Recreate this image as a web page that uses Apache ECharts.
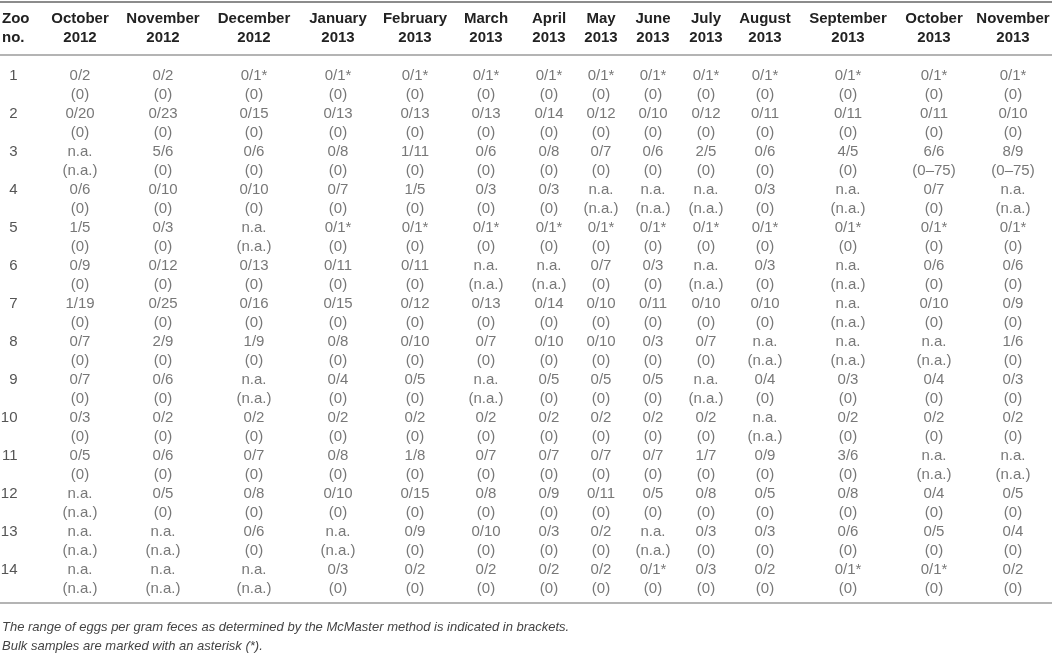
<!DOCTYPE html>
<html>
<head>
<meta charset="utf-8">
<script src="https://cdn.jsdelivr.net/npm/echarts@6/dist/echarts.min.js"></script>
<style>
  html, body { margin: 0; padding: 0; background: #fff; }
  #main { width: 1052px; height: 667px; }
</style>
</head>
<body>
<div id="main"></div>
<script>
// column headers (sampling months)
let months = [
    'October\n2012', 'November\n2012', 'December\n2012', 'January\n2013', 'February\n2013',
    'March\n2013', 'April\n2013', 'May\n2013', 'June\n2013', 'July\n2013',
    'August\n2013', 'September\n2013', 'October\n2013', 'November\n2013'
];
let zooNos = ['1', '2', '3', '4', '5', '6', '7', '8', '9', '10', '11', '12', '13', '14'];

// positive / examined samples, one row per zoo
let samples = [
    ['0/2', '0/2', '0/1*', '0/1*', '0/1*', '0/1*', '0/1*', '0/1*', '0/1*', '0/1*', '0/1*', '0/1*', '0/1*', '0/1*'],
    ['0/20', '0/23', '0/15', '0/13', '0/13', '0/13', '0/14', '0/12', '0/10', '0/12', '0/11', '0/11', '0/11', '0/10'],
    ['n.a.', '5/6', '0/6', '0/8', '1/11', '0/6', '0/8', '0/7', '0/6', '2/5', '0/6', '4/5', '6/6', '8/9'],
    ['0/6', '0/10', '0/10', '0/7', '1/5', '0/3', '0/3', 'n.a.', 'n.a.', 'n.a.', '0/3', 'n.a.', '0/7', 'n.a.'],
    ['1/5', '0/3', 'n.a.', '0/1*', '0/1*', '0/1*', '0/1*', '0/1*', '0/1*', '0/1*', '0/1*', '0/1*', '0/1*', '0/1*'],
    ['0/9', '0/12', '0/13', '0/11', '0/11', 'n.a.', 'n.a.', '0/7', '0/3', 'n.a.', '0/3', 'n.a.', '0/6', '0/6'],
    ['1/19', '0/25', '0/16', '0/15', '0/12', '0/13', '0/14', '0/10', '0/11', '0/10', '0/10', 'n.a.', '0/10', '0/9'],
    ['0/7', '2/9', '1/9', '0/8', '0/10', '0/7', '0/10', '0/10', '0/3', '0/7', 'n.a.', 'n.a.', 'n.a.', '1/6'],
    ['0/7', '0/6', 'n.a.', '0/4', '0/5', 'n.a.', '0/5', '0/5', '0/5', 'n.a.', '0/4', '0/3', '0/4', '0/3'],
    ['0/3', '0/2', '0/2', '0/2', '0/2', '0/2', '0/2', '0/2', '0/2', '0/2', 'n.a.', '0/2', '0/2', '0/2'],
    ['0/5', '0/6', '0/7', '0/8', '1/8', '0/7', '0/7', '0/7', '0/7', '1/7', '0/9', '3/6', 'n.a.', 'n.a.'],
    ['n.a.', '0/5', '0/8', '0/10', '0/15', '0/8', '0/9', '0/11', '0/5', '0/8', '0/5', '0/8', '0/4', '0/5'],
    ['n.a.', 'n.a.', '0/6', 'n.a.', '0/9', '0/10', '0/3', '0/2', 'n.a.', '0/3', '0/3', '0/6', '0/5', '0/4'],
    ['n.a.', 'n.a.', 'n.a.', '0/3', '0/2', '0/2', '0/2', '0/2', '0/1*', '0/3', '0/2', '0/1*', '0/1*', '0/2']
];

// eggs per gram feces range (McMaster), one row per zoo
let epg = [
    ['0', '0', '0', '0', '0', '0', '0', '0', '0', '0', '0', '0', '0', '0'],
    ['0', '0', '0', '0', '0', '0', '0', '0', '0', '0', '0', '0', '0', '0'],
    ['n.a.', '0', '0', '0', '0', '0', '0', '0', '0', '0', '0', '0', '0–75', '0–75'],
    ['0', '0', '0', '0', '0', '0', '0', 'n.a.', 'n.a.', 'n.a.', '0', 'n.a.', '0', 'n.a.'],
    ['0', '0', 'n.a.', '0', '0', '0', '0', '0', '0', '0', '0', '0', '0', '0'],
    ['0', '0', '0', '0', '0', 'n.a.', 'n.a.', '0', '0', 'n.a.', '0', 'n.a.', '0', '0'],
    ['0', '0', '0', '0', '0', '0', '0', '0', '0', '0', '0', 'n.a.', '0', '0'],
    ['0', '0', '0', '0', '0', '0', '0', '0', '0', '0', 'n.a.', 'n.a.', 'n.a.', '0'],
    ['0', '0', 'n.a.', '0', '0', 'n.a.', '0', '0', '0', 'n.a.', '0', '0', '0', '0'],
    ['0', '0', '0', '0', '0', '0', '0', '0', '0', '0', 'n.a.', '0', '0', '0'],
    ['0', '0', '0', '0', '0', '0', '0', '0', '0', '0', '0', '0', 'n.a.', 'n.a.'],
    ['n.a.', '0', '0', '0', '0', '0', '0', '0', '0', '0', '0', '0', '0', '0'],
    ['n.a.', 'n.a.', '0', 'n.a.', '0', '0', '0', '0', 'n.a.', '0', '0', '0', '0', '0'],
    ['n.a.', 'n.a.', 'n.a.', '0', '0', '0', '0', '0', '0', '0', '0', '0', '0', '0']
];

let footnote = 'The range of eggs per gram feces as determined by the McMaster method is indicated in brackets.\n' +
    'Bulk samples are marked with an asterisk (*).';

// layout: centre of each month column across the 1052px page
let colCenters = [80, 163, 254, 338, 415, 486, 549, 601, 653, 706, 765, 848, 934, 1013];

let FONT = "'Liberation Sans', Arial, sans-serif";

let cells = [];
samples.forEach(function(row, r) {
    row.forEach(function(s, c) {
        cells.push({ value: [colCenters[c], r], text: s + '\n(' + epg[r][c] + ')' });
    });
});

let chart = echarts.init(document.getElementById('main'));
chart.setOption({
    animation: false,
    backgroundColor: '#fff',
    title: [{
        text: 'Zoo\nno.',
        left: 2, top: 9.5, padding: 0,
        textStyle: { fontFamily: FONT, fontSize: 15, fontWeight: 'bold', lineHeight: 19, color: '#222' }
    }, {
        text: footnote,
        left: 2, top: 618, padding: 0,
        textStyle: { fontFamily: FONT, fontSize: 13, fontWeight: 'normal', fontStyle: 'italic', lineHeight: 19, color: '#444' }
    }],
    grid: { left: 0, right: 0, top: 66, bottom: 69, outerBoundsMode: 'none' },
    xAxis: [{
        type: 'value', min: 0, max: 1052, position: 'top', offset: 11,
        axisLine: { show: true, lineStyle: { color: '#b4b4b4', width: 2 } },
        axisTick: { show: false },
        splitLine: { show: false },
        axisLabel: {
            customValues: colCenters,
            margin: 7.5,
            fontFamily: FONT, fontSize: 15, fontWeight: 'bold', lineHeight: 19, color: '#222',
            formatter: function(v) { return months[colCenters.indexOf(v)] || ''; }
        }
    }, {
        type: 'value', min: 0, max: 1052, position: 'top', offset: 64.5,
        axisLine: { show: true, lineStyle: { color: '#8c8c8c', width: 2 } },
        axisTick: { show: false }, axisLabel: { show: false }, splitLine: { show: false }
    }, {
        type: 'value', min: 0, max: 1052, position: 'bottom', offset: 4.5,
        axisLine: { show: true, lineStyle: { color: '#b4b4b4', width: 2 } },
        axisTick: { show: false }, axisLabel: { show: false }, splitLine: { show: false }
    }],
    yAxis: {
        type: 'category', inverse: true, data: zooNos,
        axisLine: { show: false }, axisTick: { show: false }, splitLine: { show: false },
        axisLabel: {
            inside: true, align: 'right', margin: 17.5,
            fontFamily: FONT, fontSize: 15, lineHeight: 19, color: '#555',
            formatter: function(v) { return v + '\n '; }
        }
    },
    series: [{
        type: 'scatter',
        xAxisIndex: 0,
        symbolSize: 1,
        itemStyle: { color: 'rgba(0,0,0,0)' },
        silent: true,
        data: cells,
        label: {
            show: true, position: 'inside',
            fontFamily: FONT, fontSize: 15, lineHeight: 19, color: '#555',
            formatter: function(p) { return p.data.text; }
        }
    }]
});
</script>
</body>
</html>
